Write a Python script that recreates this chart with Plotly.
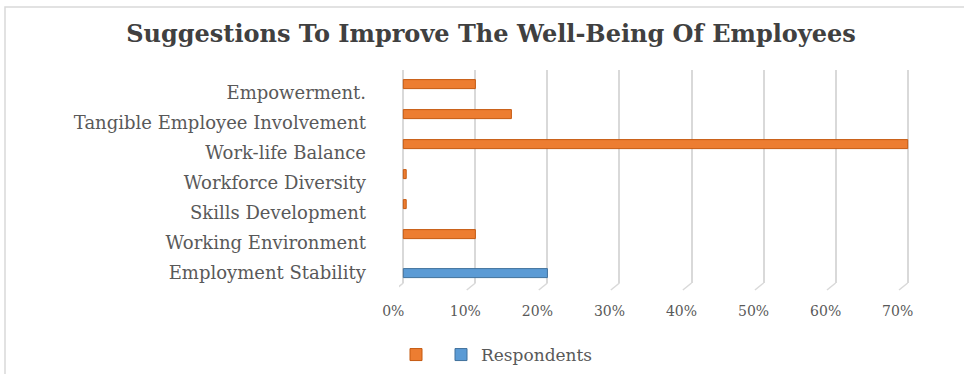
import plotly.graph_objects as go

categories = ["Employment Stability", "Working Environment", "Skills Development",
              "Workforce Diversity", "Work-life Balance", "Tangible Employee Involvement",
              "Empowerment."]
orange_values = [None, 0.10, 0.004, 0.004, 0.70, 0.15, 0.10]
respondents_values = [0.20, None, None, None, None, None, None]
x_ticks = [0, 0.1, 0.2, 0.3, 0.4, 0.5, 0.6, 0.7]
x_ticklabels = ["0%", "10%", "20%", "30%", "40%", "50%", "60%", "70%"]

W, H = 964, 374
L, R, T, B = 399, 52, 70, 91
pw, ph = W - L - R, H - T - B

def px_x(p):
    return (p - L) / pw

def px_y(p):
    return (H - B - p) / ph

fig = go.Figure()
fig.add_trace(go.Bar(
    y=categories, x=orange_values, orientation="h", name="",
    marker=dict(color="#ED7D31", line=dict(color="#C55A11", width=1)),
    width=0.3, offset=0.15, showlegend=True,
))
fig.add_trace(go.Bar(
    y=categories, x=respondents_values, orientation="h", name="Respondents",
    marker=dict(color="#5B9BD5", line=dict(color="#41719C", width=1)),
    width=0.3, offset=-0.15,
))

# small slanted "3D floor" marks under each gridline
feet = [dict(type="line", xref="x", yref="paper",
             x0=t, x1=t - 0.012, y0=0, y1=px_y(290),
             line=dict(color="#D9D9D9", width=1.5)) for t in x_ticks]

fig.update_layout(
    width=W, height=H,
    margin=dict(l=L, r=R, t=T, b=B, autoexpand=False),
    paper_bgcolor="white", plot_bgcolor="white",
    barmode="overlay",
    title=dict(text="<b>Suggestions To Improve The Well-Being Of Employees</b>",
               x=px_x(491), xref="paper", xanchor="center",
               y=1 - 34 / H, yanchor="middle",
               font=dict(family="DejaVu Serif", size=24, color="#404040")),
    xaxis=dict(range=[-0.006, 0.706], tickvals=x_ticks, ticktext=x_ticklabels,
               showgrid=True, gridcolor="#D9D9D9", gridwidth=2,
               zeroline=True, zerolinecolor="#D9D9D9", zerolinewidth=2,
               showline=False, automargin=False,
               ticklabelstandoff=18, ticklabelshift=-10,
               tickfont=dict(family="DejaVu Serif", size=14, color="#595959")),
    yaxis=dict(categoryorder="array", categoryarray=categories,
               range=[-0.33, 6.77], showgrid=False, zeroline=False, showline=False,
               automargin=False, ticklabelstandoff=32,
               tickfont=dict(family="DejaVu Serif", size=18, color="#595959")),
    legend=dict(orientation="h", x=px_x(396), xanchor="left",
                y=px_y(355), yanchor="middle",
                font=dict(family="DejaVu Serif", size=17, color="#595959"),
                itemwidth=30),
    shapes=[dict(type="rect", xref="paper", yref="paper",
                 x0=px_x(5), x1=px_x(975), y0=px_y(385), y1=px_y(7),
                 line=dict(color="#D9D9D9", width=1.5), layer="below")] + feet,
)

fig.write_html("out.html")
